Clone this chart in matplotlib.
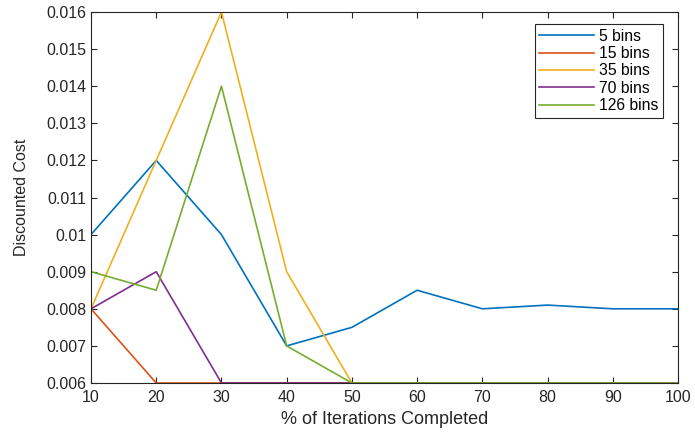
import matplotlib
matplotlib.use("Agg")
import matplotlib.pyplot as plt

plt.rcParams['font.family'] = ['Liberation Sans', 'DejaVu Sans']

x = [10, 20, 30, 40, 50, 60, 70, 80, 90, 100]
bins_5 = [0.010, 0.012, 0.010, 0.007, 0.0075, 0.0085, 0.008, 0.0081, 0.008, 0.008]
bins_15 = [0.008, 0.006, 0.006, 0.006, 0.006, 0.006, 0.006, 0.006, 0.006, 0.006]
bins_35 = [0.008, 0.012, 0.016, 0.009, 0.006, 0.006, 0.006, 0.006, 0.006, 0.006]
bins_70 = [0.008, 0.009, 0.006, 0.006, 0.006, 0.006, 0.006, 0.006, 0.006, 0.006]
bins_126 = [0.009, 0.0085, 0.014, 0.007, 0.006, 0.006, 0.006, 0.006, 0.006, 0.006]
labels = ['5 bins', '15 bins', '35 bins', '70 bins', '126 bins']
colors = ['#0072BD', '#D95319', '#EDB120', '#7E2F8E', '#77AC30']

fig = plt.figure(figsize=(6.95, 4.34), dpi=100)
ax = fig.add_axes([91/695, 1-383/434, (678-91)/695, (383-12)/434])

for ys, lab, c in zip([bins_5, bins_15, bins_35, bins_70, bins_126], labels, colors):
    ax.plot(x, ys, color=c, lw=1.2, label=lab)

ax.set_xlim(10, 100)
ax.set_ylim(0.006, 0.016)
ax.set_xticks(x)
ax.set_yticks([0.006 + 0.001*i for i in range(11)])
ax.set_yticklabels(['0.006', '0.007', '0.008', '0.009', '0.01', '0.011', '0.012',
                    '0.013', '0.014', '0.015', '0.016'])
ax.tick_params(direction='in', top=True, right=True, labelsize=11.5, colors='#262626',
               length=4, width=0.8)
ax.tick_params(axis='x', pad=5)
for s in ax.spines.values():
    s.set_color('#262626')
    s.set_linewidth(0.8)
ax.set_xlabel('% of Iterations Completed', fontsize=13, color='#262626', labelpad=4)
ax.set_ylabel('Discounted Cost', fontsize=11.5, color='#262626', labelpad=12)

leg = ax.legend(loc='upper right', bbox_to_anchor=(0.9745, 0.9677), borderaxespad=0,
                fontsize=11.3, fancybox=False, edgecolor='#262626', framealpha=1,
                handlelength=3.5, handletextpad=0.3, borderpad=0.3, labelspacing=0.15)
leg.get_frame().set_linewidth(0.8)

fig.savefig('out.png', dpi=100)
